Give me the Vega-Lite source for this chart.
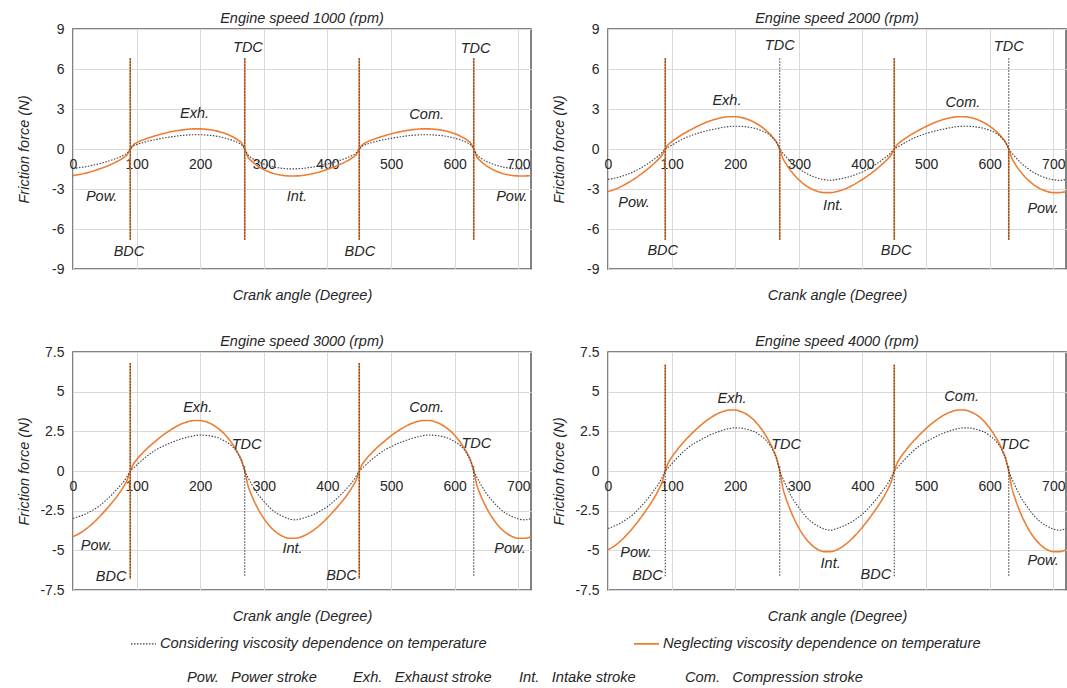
{
  "$schema": "https://vega.github.io/schema/vega-lite/v6.json",
  "background": "white",
  "padding": {"left": 15, "top": 9, "right": 0, "bottom": 0},
  "datasets": {
    "curves": [
      {"speed":1000,"angle":0,"C":-1.46,"N":-1.99},{"speed":1000,"angle":10,"C":-1.40,"N":-1.91},{"speed":1000,"angle":20,"C":-1.33,"N":-1.81},{"speed":1000,"angle":30,"C":-1.23,"N":-1.68},{"speed":1000,"angle":40,"C":-1.12,"N":-1.52},{"speed":1000,"angle":50,"C":-0.99,"N":-1.35},{"speed":1000,"angle":60,"C":-0.84,"N":-1.15},{"speed":1000,"angle":70,"C":-0.67,"N":-0.92},{"speed":1000,"angle":80,"C":-0.46,"N":-0.63},{"speed":1000,"angle":85,"C":-0.31,"N":-0.43},{"speed":1000,"angle":90,"C":0,"N":0},{"speed":1000,"angle":95,"C":0.22,"N":0.32},{"speed":1000,"angle":100,"C":0.33,"N":0.47},{"speed":1000,"angle":110,"C":0.48,"N":0.68},{"speed":1000,"angle":120,"C":0.61,"N":0.85},{"speed":1000,"angle":130,"C":0.71,"N":1.00},{"speed":1000,"angle":140,"C":0.80,"N":1.13},{"speed":1000,"angle":150,"C":0.88,"N":1.25},{"speed":1000,"angle":160,"C":0.95,"N":1.35},{"speed":1000,"angle":170,"C":1.01,"N":1.42},{"speed":1000,"angle":180,"C":1.05,"N":1.48},{"speed":1000,"angle":190,"C":1.07,"N":1.51},{"speed":1000,"angle":200,"C":1.07,"N":1.51},{"speed":1000,"angle":210,"C":1.04,"N":1.47},{"speed":1000,"angle":220,"C":1.00,"N":1.41},{"speed":1000,"angle":230,"C":0.92,"N":1.30},{"speed":1000,"angle":240,"C":0.81,"N":1.15},{"speed":1000,"angle":250,"C":0.66,"N":0.94},{"speed":1000,"angle":260,"C":0.46,"N":0.65},{"speed":1000,"angle":265,"C":0.32,"N":0.45},{"speed":1000,"angle":270,"C":0,"N":0},{"speed":1000,"angle":275,"C":-0.44,"N":-0.60},{"speed":1000,"angle":280,"C":-0.64,"N":-0.87},{"speed":1000,"angle":290,"C":-0.93,"N":-1.26},{"speed":1000,"angle":300,"C":-1.13,"N":-1.54},{"speed":1000,"angle":310,"C":-1.28,"N":-1.75},{"speed":1000,"angle":320,"C":-1.39,"N":-1.89},{"speed":1000,"angle":330,"C":-1.45,"N":-1.98},{"speed":1000,"angle":340,"C":-1.49,"N":-2.02},{"speed":1000,"angle":350,"C":-1.49,"N":-2.02},{"speed":1000,"angle":360,"C":-1.46,"N":-1.99},
      {"speed":1000,"angle":370,"C":-1.40,"N":-1.91},{"speed":1000,"angle":380,"C":-1.33,"N":-1.81},{"speed":1000,"angle":390,"C":-1.23,"N":-1.68},{"speed":1000,"angle":400,"C":-1.12,"N":-1.52},{"speed":1000,"angle":410,"C":-0.99,"N":-1.35},{"speed":1000,"angle":420,"C":-0.84,"N":-1.15},{"speed":1000,"angle":430,"C":-0.67,"N":-0.92},{"speed":1000,"angle":440,"C":-0.46,"N":-0.63},{"speed":1000,"angle":445,"C":-0.31,"N":-0.43},{"speed":1000,"angle":450,"C":0,"N":0},{"speed":1000,"angle":455,"C":0.22,"N":0.32},{"speed":1000,"angle":460,"C":0.33,"N":0.47},{"speed":1000,"angle":470,"C":0.48,"N":0.68},{"speed":1000,"angle":480,"C":0.61,"N":0.85},{"speed":1000,"angle":490,"C":0.71,"N":1.00},{"speed":1000,"angle":500,"C":0.80,"N":1.13},{"speed":1000,"angle":510,"C":0.88,"N":1.25},{"speed":1000,"angle":520,"C":0.95,"N":1.35},{"speed":1000,"angle":530,"C":1.01,"N":1.42},{"speed":1000,"angle":540,"C":1.05,"N":1.48},{"speed":1000,"angle":550,"C":1.07,"N":1.51},{"speed":1000,"angle":560,"C":1.07,"N":1.51},{"speed":1000,"angle":570,"C":1.04,"N":1.47},{"speed":1000,"angle":580,"C":1.00,"N":1.41},{"speed":1000,"angle":590,"C":0.92,"N":1.30},{"speed":1000,"angle":600,"C":0.81,"N":1.15},{"speed":1000,"angle":610,"C":0.66,"N":0.94},{"speed":1000,"angle":620,"C":0.46,"N":0.65},{"speed":1000,"angle":625,"C":0.32,"N":0.45},{"speed":1000,"angle":630,"C":0,"N":0},{"speed":1000,"angle":635,"C":-0.44,"N":-0.60},{"speed":1000,"angle":640,"C":-0.64,"N":-0.87},{"speed":1000,"angle":650,"C":-0.93,"N":-1.26},{"speed":1000,"angle":660,"C":-1.13,"N":-1.54},{"speed":1000,"angle":670,"C":-1.28,"N":-1.75},{"speed":1000,"angle":680,"C":-1.39,"N":-1.89},{"speed":1000,"angle":690,"C":-1.45,"N":-1.98},{"speed":1000,"angle":700,"C":-1.49,"N":-2.02},{"speed":1000,"angle":710,"C":-1.49,"N":-2.02},{"speed":1000,"angle":720,"C":-1.46,"N":-1.99},

      {"speed":2000,"angle":0,"C":-2.28,"N":-3.19},{"speed":2000,"angle":10,"C":-2.19,"N":-3.04},{"speed":2000,"angle":20,"C":-2.07,"N":-2.83},{"speed":2000,"angle":30,"C":-1.90,"N":-2.57},{"speed":2000,"angle":40,"C":-1.72,"N":-2.28},{"speed":2000,"angle":50,"C":-1.46,"N":-1.95},{"speed":2000,"angle":60,"C":-1.18,"N":-1.59},{"speed":2000,"angle":70,"C":-0.85,"N":-1.19},{"speed":2000,"angle":80,"C":-0.49,"N":-0.73},{"speed":2000,"angle":85,"C":-0.26,"N":-0.45},{"speed":2000,"angle":90,"C":0,"N":0},{"speed":2000,"angle":95,"C":0.14,"N":0.34},{"speed":2000,"angle":100,"C":0.28,"N":0.54},{"speed":2000,"angle":110,"C":0.55,"N":0.88},{"speed":2000,"angle":120,"C":0.80,"N":1.18},{"speed":2000,"angle":130,"C":1.00,"N":1.44},{"speed":2000,"angle":140,"C":1.16,"N":1.69},{"speed":2000,"angle":150,"C":1.30,"N":1.91},{"speed":2000,"angle":160,"C":1.42,"N":2.10},{"speed":2000,"angle":170,"C":1.52,"N":2.25},{"speed":2000,"angle":180,"C":1.61,"N":2.36},{"speed":2000,"angle":190,"C":1.68,"N":2.42},{"speed":2000,"angle":200,"C":1.71,"N":2.42},{"speed":2000,"angle":210,"C":1.70,"N":2.36},{"speed":2000,"angle":220,"C":1.64,"N":2.22},{"speed":2000,"angle":230,"C":1.56,"N":2.00},{"speed":2000,"angle":240,"C":1.40,"N":1.71},{"speed":2000,"angle":250,"C":1.18,"N":1.33},{"speed":2000,"angle":260,"C":0.78,"N":0.83},{"speed":2000,"angle":265,"C":0.47,"N":0.52},{"speed":2000,"angle":270,"C":0,"N":0},{"speed":2000,"angle":275,"C":-0.31,"N":-0.70},{"speed":2000,"angle":280,"C":-0.59,"N":-1.12},{"speed":2000,"angle":290,"C":-1.08,"N":-1.79},{"speed":2000,"angle":300,"C":-1.46,"N":-2.31},{"speed":2000,"angle":310,"C":-1.79,"N":-2.71},{"speed":2000,"angle":320,"C":-2.02,"N":-2.99},{"speed":2000,"angle":330,"C":-2.19,"N":-3.18},{"speed":2000,"angle":340,"C":-2.30,"N":-3.27},{"speed":2000,"angle":350,"C":-2.35,"N":-3.27},{"speed":2000,"angle":360,"C":-2.28,"N":-3.19},
      {"speed":2000,"angle":370,"C":-2.19,"N":-3.04},{"speed":2000,"angle":380,"C":-2.07,"N":-2.83},{"speed":2000,"angle":390,"C":-1.90,"N":-2.57},{"speed":2000,"angle":400,"C":-1.72,"N":-2.28},{"speed":2000,"angle":410,"C":-1.46,"N":-1.95},{"speed":2000,"angle":420,"C":-1.18,"N":-1.59},{"speed":2000,"angle":430,"C":-0.85,"N":-1.19},{"speed":2000,"angle":440,"C":-0.49,"N":-0.73},{"speed":2000,"angle":445,"C":-0.26,"N":-0.45},{"speed":2000,"angle":450,"C":0,"N":0},{"speed":2000,"angle":455,"C":0.14,"N":0.34},{"speed":2000,"angle":460,"C":0.28,"N":0.54},{"speed":2000,"angle":470,"C":0.55,"N":0.88},{"speed":2000,"angle":480,"C":0.80,"N":1.18},{"speed":2000,"angle":490,"C":1.00,"N":1.44},{"speed":2000,"angle":500,"C":1.16,"N":1.69},{"speed":2000,"angle":510,"C":1.30,"N":1.91},{"speed":2000,"angle":520,"C":1.42,"N":2.10},{"speed":2000,"angle":530,"C":1.52,"N":2.25},{"speed":2000,"angle":540,"C":1.61,"N":2.36},{"speed":2000,"angle":550,"C":1.68,"N":2.42},{"speed":2000,"angle":560,"C":1.71,"N":2.42},{"speed":2000,"angle":570,"C":1.70,"N":2.36},{"speed":2000,"angle":580,"C":1.64,"N":2.22},{"speed":2000,"angle":590,"C":1.56,"N":2.00},{"speed":2000,"angle":600,"C":1.40,"N":1.71},{"speed":2000,"angle":610,"C":1.18,"N":1.33},{"speed":2000,"angle":620,"C":0.78,"N":0.83},{"speed":2000,"angle":625,"C":0.47,"N":0.52},{"speed":2000,"angle":630,"C":0,"N":0},{"speed":2000,"angle":635,"C":-0.31,"N":-0.70},{"speed":2000,"angle":640,"C":-0.59,"N":-1.12},{"speed":2000,"angle":650,"C":-1.08,"N":-1.79},{"speed":2000,"angle":660,"C":-1.46,"N":-2.31},{"speed":2000,"angle":670,"C":-1.79,"N":-2.71},{"speed":2000,"angle":680,"C":-2.02,"N":-2.99},{"speed":2000,"angle":690,"C":-2.19,"N":-3.18},{"speed":2000,"angle":700,"C":-2.30,"N":-3.27},{"speed":2000,"angle":710,"C":-2.35,"N":-3.27},{"speed":2000,"angle":720,"C":-2.28,"N":-3.19},

      {"speed":3000,"angle":0,"C":-2.99,"N":-4.13},{"speed":3000,"angle":10,"C":-2.86,"N":-3.94},{"speed":3000,"angle":20,"C":-2.71,"N":-3.67},{"speed":3000,"angle":30,"C":-2.49,"N":-3.34},{"speed":3000,"angle":40,"C":-2.25,"N":-2.95},{"speed":3000,"angle":50,"C":-1.91,"N":-2.52},{"speed":3000,"angle":60,"C":-1.54,"N":-2.06},{"speed":3000,"angle":70,"C":-1.11,"N":-1.55},{"speed":3000,"angle":80,"C":-0.65,"N":-0.95},{"speed":3000,"angle":85,"C":-0.34,"N":-0.59},{"speed":3000,"angle":90,"C":0,"N":0},{"speed":3000,"angle":95,"C":0.18,"N":0.44},{"speed":3000,"angle":100,"C":0.37,"N":0.71},{"speed":3000,"angle":110,"C":0.73,"N":1.16},{"speed":3000,"angle":120,"C":1.05,"N":1.55},{"speed":3000,"angle":130,"C":1.33,"N":1.89},{"speed":3000,"angle":140,"C":1.53,"N":2.22},{"speed":3000,"angle":150,"C":1.72,"N":2.50},{"speed":3000,"angle":160,"C":1.88,"N":2.75},{"speed":3000,"angle":170,"C":2.02,"N":2.96},{"speed":3000,"angle":180,"C":2.13,"N":3.10},{"speed":3000,"angle":190,"C":2.22,"N":3.18},{"speed":3000,"angle":200,"C":2.27,"N":3.18},{"speed":3000,"angle":210,"C":2.24,"N":3.09},{"speed":3000,"angle":220,"C":2.18,"N":2.91},{"speed":3000,"angle":230,"C":2.06,"N":2.63},{"speed":3000,"angle":240,"C":1.85,"N":2.25},{"speed":3000,"angle":250,"C":1.56,"N":1.74},{"speed":3000,"angle":260,"C":1.03,"N":1.09},{"speed":3000,"angle":265,"C":0.62,"N":0.68},{"speed":3000,"angle":270,"C":0,"N":0},{"speed":3000,"angle":275,"C":-0.40,"N":-0.90},{"speed":3000,"angle":280,"C":-0.77,"N":-1.45},{"speed":3000,"angle":290,"C":-1.42,"N":-2.32},{"speed":3000,"angle":300,"C":-1.91,"N":-2.99},{"speed":3000,"angle":310,"C":-2.34,"N":-3.51},{"speed":3000,"angle":320,"C":-2.65,"N":-3.88},{"speed":3000,"angle":330,"C":-2.86,"N":-4.12},{"speed":3000,"angle":340,"C":-3.02,"N":-4.24},{"speed":3000,"angle":350,"C":-3.08,"N":-4.24},{"speed":3000,"angle":360,"C":-2.99,"N":-4.13},
      {"speed":3000,"angle":370,"C":-2.86,"N":-3.94},{"speed":3000,"angle":380,"C":-2.71,"N":-3.67},{"speed":3000,"angle":390,"C":-2.49,"N":-3.34},{"speed":3000,"angle":400,"C":-2.25,"N":-2.95},{"speed":3000,"angle":410,"C":-1.91,"N":-2.52},{"speed":3000,"angle":420,"C":-1.54,"N":-2.06},{"speed":3000,"angle":430,"C":-1.11,"N":-1.55},{"speed":3000,"angle":440,"C":-0.65,"N":-0.95},{"speed":3000,"angle":445,"C":-0.34,"N":-0.59},{"speed":3000,"angle":450,"C":0,"N":0},{"speed":3000,"angle":455,"C":0.18,"N":0.44},{"speed":3000,"angle":460,"C":0.37,"N":0.71},{"speed":3000,"angle":470,"C":0.73,"N":1.16},{"speed":3000,"angle":480,"C":1.05,"N":1.55},{"speed":3000,"angle":490,"C":1.33,"N":1.89},{"speed":3000,"angle":500,"C":1.53,"N":2.22},{"speed":3000,"angle":510,"C":1.72,"N":2.50},{"speed":3000,"angle":520,"C":1.88,"N":2.75},{"speed":3000,"angle":530,"C":2.02,"N":2.96},{"speed":3000,"angle":540,"C":2.13,"N":3.10},{"speed":3000,"angle":550,"C":2.22,"N":3.18},{"speed":3000,"angle":560,"C":2.27,"N":3.18},{"speed":3000,"angle":570,"C":2.24,"N":3.09},{"speed":3000,"angle":580,"C":2.18,"N":2.91},{"speed":3000,"angle":590,"C":2.06,"N":2.63},{"speed":3000,"angle":600,"C":1.85,"N":2.25},{"speed":3000,"angle":610,"C":1.56,"N":1.74},{"speed":3000,"angle":620,"C":1.03,"N":1.09},{"speed":3000,"angle":625,"C":0.62,"N":0.68},{"speed":3000,"angle":630,"C":0,"N":0},{"speed":3000,"angle":635,"C":-0.40,"N":-0.90},{"speed":3000,"angle":640,"C":-0.77,"N":-1.45},{"speed":3000,"angle":650,"C":-1.42,"N":-2.32},{"speed":3000,"angle":660,"C":-1.91,"N":-2.99},{"speed":3000,"angle":670,"C":-2.34,"N":-3.51},{"speed":3000,"angle":680,"C":-2.65,"N":-3.88},{"speed":3000,"angle":690,"C":-2.86,"N":-4.12},{"speed":3000,"angle":700,"C":-3.02,"N":-4.24},{"speed":3000,"angle":710,"C":-3.08,"N":-4.24},{"speed":3000,"angle":720,"C":-2.99,"N":-4.13},

      {"speed":4000,"angle":0,"C":-3.62,"N":-4.96},{"speed":4000,"angle":10,"C":-3.47,"N":-4.73},{"speed":4000,"angle":20,"C":-3.28,"N":-4.40},{"speed":4000,"angle":30,"C":-3.02,"N":-4.00},{"speed":4000,"angle":40,"C":-2.72,"N":-3.54},{"speed":4000,"angle":50,"C":-2.31,"N":-3.03},{"speed":4000,"angle":60,"C":-1.87,"N":-2.47},{"speed":4000,"angle":70,"C":-1.34,"N":-1.86},{"speed":4000,"angle":80,"C":-0.78,"N":-1.14},{"speed":4000,"angle":85,"C":-0.41,"N":-0.70},{"speed":4000,"angle":90,"C":0,"N":0},{"speed":4000,"angle":95,"C":0.22,"N":0.53},{"speed":4000,"angle":100,"C":0.44,"N":0.86},{"speed":4000,"angle":110,"C":0.88,"N":1.40},{"speed":4000,"angle":120,"C":1.27,"N":1.87},{"speed":4000,"angle":130,"C":1.60,"N":2.29},{"speed":4000,"angle":140,"C":1.84,"N":2.68},{"speed":4000,"angle":150,"C":2.06,"N":3.02},{"speed":4000,"angle":160,"C":2.26,"N":3.32},{"speed":4000,"angle":170,"C":2.42,"N":3.57},{"speed":4000,"angle":180,"C":2.56,"N":3.74},{"speed":4000,"angle":190,"C":2.67,"N":3.84},{"speed":4000,"angle":200,"C":2.72,"N":3.84},{"speed":4000,"angle":210,"C":2.70,"N":3.73},{"speed":4000,"angle":220,"C":2.61,"N":3.52},{"speed":4000,"angle":230,"C":2.48,"N":3.18},{"speed":4000,"angle":240,"C":2.23,"N":2.71},{"speed":4000,"angle":250,"C":1.87,"N":2.10},{"speed":4000,"angle":260,"C":1.24,"N":1.32},{"speed":4000,"angle":265,"C":0.74,"N":0.82},{"speed":4000,"angle":270,"C":0,"N":0},{"speed":4000,"angle":275,"C":-0.48,"N":-1.08},{"speed":4000,"angle":280,"C":-0.93,"N":-1.74},{"speed":4000,"angle":290,"C":-1.72,"N":-2.78},{"speed":4000,"angle":300,"C":-2.31,"N":-3.59},{"speed":4000,"angle":310,"C":-2.83,"N":-4.21},{"speed":4000,"angle":320,"C":-3.21,"N":-4.66},{"speed":4000,"angle":330,"C":-3.47,"N":-4.95},{"speed":4000,"angle":340,"C":-3.66,"N":-5.08},{"speed":4000,"angle":350,"C":-3.73,"N":-5.08},{"speed":4000,"angle":360,"C":-3.62,"N":-4.96},
      {"speed":4000,"angle":370,"C":-3.47,"N":-4.73},{"speed":4000,"angle":380,"C":-3.28,"N":-4.40},{"speed":4000,"angle":390,"C":-3.02,"N":-4.00},{"speed":4000,"angle":400,"C":-2.72,"N":-3.54},{"speed":4000,"angle":410,"C":-2.31,"N":-3.03},{"speed":4000,"angle":420,"C":-1.87,"N":-2.47},{"speed":4000,"angle":430,"C":-1.34,"N":-1.86},{"speed":4000,"angle":440,"C":-0.78,"N":-1.14},{"speed":4000,"angle":445,"C":-0.41,"N":-0.70},{"speed":4000,"angle":450,"C":0,"N":0},{"speed":4000,"angle":455,"C":0.22,"N":0.53},{"speed":4000,"angle":460,"C":0.44,"N":0.86},{"speed":4000,"angle":470,"C":0.88,"N":1.40},{"speed":4000,"angle":480,"C":1.27,"N":1.87},{"speed":4000,"angle":490,"C":1.60,"N":2.29},{"speed":4000,"angle":500,"C":1.84,"N":2.68},{"speed":4000,"angle":510,"C":2.06,"N":3.02},{"speed":4000,"angle":520,"C":2.26,"N":3.32},{"speed":4000,"angle":530,"C":2.42,"N":3.57},{"speed":4000,"angle":540,"C":2.56,"N":3.74},{"speed":4000,"angle":550,"C":2.67,"N":3.84},{"speed":4000,"angle":560,"C":2.72,"N":3.84},{"speed":4000,"angle":570,"C":2.70,"N":3.73},{"speed":4000,"angle":580,"C":2.61,"N":3.52},{"speed":4000,"angle":590,"C":2.48,"N":3.18},{"speed":4000,"angle":600,"C":2.23,"N":2.71},{"speed":4000,"angle":610,"C":1.87,"N":2.10},{"speed":4000,"angle":620,"C":1.24,"N":1.32},{"speed":4000,"angle":625,"C":0.74,"N":0.82},{"speed":4000,"angle":630,"C":0,"N":0},{"speed":4000,"angle":635,"C":-0.48,"N":-1.08},{"speed":4000,"angle":640,"C":-0.93,"N":-1.74},{"speed":4000,"angle":650,"C":-1.72,"N":-2.78},{"speed":4000,"angle":660,"C":-2.31,"N":-3.59},{"speed":4000,"angle":670,"C":-2.83,"N":-4.21},{"speed":4000,"angle":680,"C":-3.21,"N":-4.66},{"speed":4000,"angle":690,"C":-3.47,"N":-4.95},{"speed":4000,"angle":700,"C":-3.66,"N":-5.08},{"speed":4000,"angle":710,"C":-3.73,"N":-5.08},{"speed":4000,"angle":720,"C":-3.62,"N":-4.96}
    ],
    "markers": [
      {"speed":1000,"angle":90,"series":"N","top":6.8,"bottom":-6.8},{"speed":1000,"angle":270,"series":"N","top":6.8,"bottom":-6.8},{"speed":1000,"angle":450,"series":"N","top":6.8,"bottom":-6.8},{"speed":1000,"angle":630,"series":"N","top":6.8,"bottom":-6.8},
      {"speed":1000,"angle":90,"series":"C","top":6.8,"bottom":-6.8},{"speed":1000,"angle":270,"series":"C","top":6.8,"bottom":-6.8},{"speed":1000,"angle":450,"series":"C","top":6.8,"bottom":-6.8},{"speed":1000,"angle":630,"series":"C","top":6.8,"bottom":-6.8},
      {"speed":2000,"angle":90,"series":"N","top":6.8,"bottom":-6.8},{"speed":2000,"angle":270,"series":"N","top":0,"bottom":-6.8},{"speed":2000,"angle":450,"series":"N","top":6.8,"bottom":-6.8},{"speed":2000,"angle":630,"series":"N","top":0,"bottom":-6.8},
      {"speed":2000,"angle":90,"series":"C","top":6.8,"bottom":-6.8},{"speed":2000,"angle":270,"series":"C","top":6.8,"bottom":-6.8},{"speed":2000,"angle":450,"series":"C","top":6.8,"bottom":-6.8},{"speed":2000,"angle":630,"series":"C","top":6.8,"bottom":-6.8},
      {"speed":3000,"angle":90,"series":"N","top":6.8,"bottom":-6.8},{"speed":3000,"angle":450,"series":"N","top":6.8,"bottom":-6.8},
      {"speed":3000,"angle":90,"series":"C","top":6.8,"bottom":-6.8},{"speed":3000,"angle":270,"series":"C","top":0.3,"bottom":-6.6},{"speed":3000,"angle":450,"series":"C","top":6.8,"bottom":-6.8},{"speed":3000,"angle":630,"series":"C","top":0.3,"bottom":-6.6},
      {"speed":4000,"angle":90,"series":"N","top":6.7,"bottom":0},{"speed":4000,"angle":450,"series":"N","top":6.7,"bottom":0},
      {"speed":4000,"angle":90,"series":"C","top":6.7,"bottom":-6.7},{"speed":4000,"angle":270,"series":"C","top":0.3,"bottom":-6.7},{"speed":4000,"angle":450,"series":"C","top":6.7,"bottom":-6.7},{"speed":4000,"angle":630,"series":"C","top":0.3,"bottom":-6.7}
    ],
    "labels": [
      {"speed":1000,"angle":275,"force":7.56,"label":"TDC"},{"speed":1000,"angle":633,"force":7.5,"label":"TDC"},{"speed":1000,"angle":88,"force":-7.69,"label":"BDC"},{"speed":1000,"angle":451,"force":-7.69,"label":"BDC"},{"speed":1000,"angle":191,"force":2.63,"label":"Exh."},{"speed":1000,"angle":556,"force":2.55,"label":"Com."},{"speed":1000,"angle":45,"force":-3.6,"label":"Pow."},{"speed":1000,"angle":352,"force":-3.6,"label":"Int."},{"speed":1000,"angle":690,"force":-3.57,"label":"Pow."},
      {"speed":2000,"angle":270,"force":7.75,"label":"TDC"},{"speed":2000,"angle":630,"force":7.68,"label":"TDC"},{"speed":2000,"angle":86,"force":-7.63,"label":"BDC"},{"speed":2000,"angle":453,"force":-7.63,"label":"BDC"},{"speed":2000,"angle":187,"force":3.6,"label":"Exh."},{"speed":2000,"angle":558,"force":3.43,"label":"Com."},{"speed":2000,"angle":41,"force":-4.08,"label":"Pow."},{"speed":2000,"angle":354,"force":-4.28,"label":"Int."},{"speed":2000,"angle":684,"force":-4.48,"label":"Pow."},
      {"speed":3000,"angle":196,"force":3.98,"label":"Exh."},{"speed":3000,"angle":556,"force":3.98,"label":"Com."},{"speed":3000,"angle":273,"force":1.63,"label":"TDC"},{"speed":3000,"angle":634,"force":1.73,"label":"TDC"},{"speed":3000,"angle":60,"force":-6.65,"label":"BDC"},{"speed":3000,"angle":422,"force":-6.6,"label":"BDC"},{"speed":3000,"angle":37,"force":-4.73,"label":"Pow."},{"speed":3000,"angle":345,"force":-4.94,"label":"Int."},{"speed":3000,"angle":687,"force":-4.9,"label":"Pow."},
      {"speed":4000,"angle":195,"force":4.54,"label":"Exh."},{"speed":4000,"angle":556,"force":4.65,"label":"Com."},{"speed":4000,"angle":280,"force":1.63,"label":"TDC"},{"speed":4000,"angle":639,"force":1.63,"label":"TDC"},{"speed":4000,"angle":62,"force":-6.6,"label":"BDC"},{"speed":4000,"angle":421,"force":-6.56,"label":"BDC"},{"speed":4000,"angle":44,"force":-5.15,"label":"Pow."},{"speed":4000,"angle":350,"force":-5.88,"label":"Int."},{"speed":4000,"angle":684,"force":-5.67,"label":"Pow."}
    ],
    "strokes": [
      {"abbr":"Pow.","entry":"Pow.\u00a0\u00a0\u00a0Power stroke"},
      {"abbr":"Exh.","entry":"Exh.\u00a0\u00a0\u00a0Exhaust stroke"},
      {"abbr":"Int.","entry":"Int.\u00a0\u00a0\u00a0Intake stroke"},
      {"abbr":"Com.","entry":"Com.\u00a0\u00a0\u00a0Compression stroke"}
    ]
  },
  "spacing": 29,
  "resolve": {"scale": {"x": "independent", "y": "independent", "color": "shared", "strokeDash": "shared", "strokeWidth": "shared"}},
  "vconcat": [
    {
      "spacing": 15,
      "resolve": {"scale": {"x": "independent", "y": "independent"}},
      "hconcat": [
        {
          "width": 458, "height": 240,
          "title": "Engine speed 1000 (rpm)",
          "encoding": {
            "x": {"field": "angle", "type": "quantitative", "scale": {"domain": [0, 720], "nice": false, "zero": false},
                  "axis": {"values": [0,100,200,300,400,500,600,700], "offset": -120, "labelPadding": 8, "title": "Crank angle (Degree)", "titleY": 146, "titleBaseline": "middle"}}
          },
          "layer": [
            {"data": {"name": "curves"}, "transform": [{"filter": "datum.speed === 1000"}, {"fold": ["N", "C"], "as": ["series", "force"]}],
             "mark": {"type": "line", "interpolate": "monotone"},
             "encoding": {
               "y": {"field": "force", "type": "quantitative", "scale": {"domain": [-9, 9], "nice": false}, "axis": {"values": [-9,-6,-3,0,3,6,9], "title": "Friction force (N)", "titleX": -42, "labelExpr": "toString(datum.value)"}},
               "color": {"field": "series", "type": "nominal", "scale": {"domain": ["C","N"], "range": ["#404040","#ED7D31"]}, "legend": {"title": null, "labelExpr": "datum.label === 'C' ? 'Considering viscosity dependence on temperature' : 'Neglecting viscosity dependence on temperature'"}},
               "strokeDash": {"field": "series", "type": "nominal", "scale": {"domain": ["C","N"], "range": [[1.5,1.5],[1,0]]}, "legend": {"title": null, "labelExpr": "datum.label === 'C' ? 'Considering viscosity dependence on temperature' : 'Neglecting viscosity dependence on temperature'"}},
               "strokeWidth": {"field": "series", "type": "ordinal", "scale": {"domain": ["C","N"], "range": [1.1, 1.6]}, "legend": null}
             }},
            {"data": {"name": "markers"}, "transform": [{"filter": "datum.speed === 1000"}],
             "mark": {"type": "rule"},
             "encoding": {
               "y": {"field": "top", "type": "quantitative", "axis": {"values": [-9,-6,-3,0,3,6,9], "title": "Friction force (N)", "titleX": -42, "labelExpr": "toString(datum.value)"}},
               "y2": {"field": "bottom"},
               "color": {"field": "series", "type": "nominal", "legend": {"title": null, "labelExpr": "datum.label === 'C' ? 'Considering viscosity dependence on temperature' : 'Neglecting viscosity dependence on temperature'"}},
               "strokeDash": {"field": "series", "type": "nominal", "legend": {"title": null, "labelExpr": "datum.label === 'C' ? 'Considering viscosity dependence on temperature' : 'Neglecting viscosity dependence on temperature'"}},
               "strokeWidth": {"field": "series", "type": "ordinal", "legend": null}
             }},
            {"data": {"name": "labels"}, "transform": [{"filter": "datum.speed === 1000"}],
             "mark": {"type": "text", "font": "Liberation Sans", "fontSize": 14.5, "fontStyle": "italic", "color": "#262626"},
             "encoding": {"y": {"field": "force", "type": "quantitative", "axis": {"values": [-9,-6,-3,0,3,6,9], "title": "Friction force (N)", "titleX": -42, "labelExpr": "toString(datum.value)"}}, "text": {"field": "label"}}}
          ]
        },
        {
          "width": 458, "height": 240,
          "title": "Engine speed 2000 (rpm)",
          "encoding": {
            "x": {"field": "angle", "type": "quantitative", "scale": {"domain": [0, 720], "nice": false, "zero": false},
                  "axis": {"values": [0,100,200,300,400,500,600,700], "offset": -120, "labelPadding": 8, "title": "Crank angle (Degree)", "titleY": 146, "titleBaseline": "middle"}}
          },
          "layer": [
            {"data": {"name": "curves"}, "transform": [{"filter": "datum.speed === 2000"}, {"fold": ["N", "C"], "as": ["series", "force"]}],
             "mark": {"type": "line", "interpolate": "monotone"},
             "encoding": {
               "y": {"field": "force", "type": "quantitative", "scale": {"domain": [-9, 9], "nice": false}, "axis": {"values": [-9,-6,-3,0,3,6,9], "title": "Friction force (N)", "titleX": -42, "labelExpr": "toString(datum.value)"}},
               "color": {"field": "series", "type": "nominal", "legend": {"title": null, "labelExpr": "datum.label === 'C' ? 'Considering viscosity dependence on temperature' : 'Neglecting viscosity dependence on temperature'"}},
               "strokeDash": {"field": "series", "type": "nominal", "legend": {"title": null, "labelExpr": "datum.label === 'C' ? 'Considering viscosity dependence on temperature' : 'Neglecting viscosity dependence on temperature'"}},
               "strokeWidth": {"field": "series", "type": "ordinal", "legend": null}
             }},
            {"data": {"name": "markers"}, "transform": [{"filter": "datum.speed === 2000"}],
             "mark": {"type": "rule"},
             "encoding": {
               "y": {"field": "top", "type": "quantitative", "axis": {"values": [-9,-6,-3,0,3,6,9], "title": "Friction force (N)", "titleX": -42, "labelExpr": "toString(datum.value)"}},
               "y2": {"field": "bottom"},
               "color": {"field": "series", "type": "nominal", "legend": {"title": null, "labelExpr": "datum.label === 'C' ? 'Considering viscosity dependence on temperature' : 'Neglecting viscosity dependence on temperature'"}},
               "strokeDash": {"field": "series", "type": "nominal", "legend": {"title": null, "labelExpr": "datum.label === 'C' ? 'Considering viscosity dependence on temperature' : 'Neglecting viscosity dependence on temperature'"}},
               "strokeWidth": {"field": "series", "type": "ordinal", "legend": null}
             }},
            {"data": {"name": "labels"}, "transform": [{"filter": "datum.speed === 2000"}],
             "mark": {"type": "text", "font": "Liberation Sans", "fontSize": 14.5, "fontStyle": "italic", "color": "#262626"},
             "encoding": {"y": {"field": "force", "type": "quantitative", "axis": {"values": [-9,-6,-3,0,3,6,9], "title": "Friction force (N)", "titleX": -42, "labelExpr": "toString(datum.value)"}}, "text": {"field": "label"}}}
          ]
        }
      ]
    },
    {
      "spacing": 15,
      "resolve": {"scale": {"x": "independent", "y": "independent"}},
      "hconcat": [
        {
          "width": 458, "height": 238,
          "title": "Engine speed 3000 (rpm)",
          "encoding": {
            "x": {"field": "angle", "type": "quantitative", "scale": {"domain": [0, 720], "nice": false, "zero": false},
                  "axis": {"values": [0,100,200,300,400,500,600,700], "offset": -119, "labelPadding": 8, "title": "Crank angle (Degree)", "titleY": 145, "titleBaseline": "middle"}}
          },
          "layer": [
            {"data": {"name": "curves"}, "transform": [{"filter": "datum.speed === 3000"}, {"fold": ["N", "C"], "as": ["series", "force"]}],
             "mark": {"type": "line", "interpolate": "monotone"},
             "encoding": {
               "y": {"field": "force", "type": "quantitative", "scale": {"domain": [-7.5, 7.5], "nice": false}, "axis": {"values": [-7.5,-5,-2.5,0,2.5,5,7.5], "title": "Friction force (N)", "titleX": -42, "labelExpr": "toString(datum.value)"}},
               "color": {"field": "series", "type": "nominal", "legend": {"title": null, "labelExpr": "datum.label === 'C' ? 'Considering viscosity dependence on temperature' : 'Neglecting viscosity dependence on temperature'"}},
               "strokeDash": {"field": "series", "type": "nominal", "legend": {"title": null, "labelExpr": "datum.label === 'C' ? 'Considering viscosity dependence on temperature' : 'Neglecting viscosity dependence on temperature'"}},
               "strokeWidth": {"field": "series", "type": "ordinal", "legend": null}
             }},
            {"data": {"name": "markers"}, "transform": [{"filter": "datum.speed === 3000"}],
             "mark": {"type": "rule"},
             "encoding": {
               "y": {"field": "top", "type": "quantitative", "axis": {"values": [-7.5,-5,-2.5,0,2.5,5,7.5], "title": "Friction force (N)", "titleX": -42, "labelExpr": "toString(datum.value)"}},
               "y2": {"field": "bottom"},
               "color": {"field": "series", "type": "nominal", "legend": {"title": null, "labelExpr": "datum.label === 'C' ? 'Considering viscosity dependence on temperature' : 'Neglecting viscosity dependence on temperature'"}},
               "strokeDash": {"field": "series", "type": "nominal", "legend": {"title": null, "labelExpr": "datum.label === 'C' ? 'Considering viscosity dependence on temperature' : 'Neglecting viscosity dependence on temperature'"}},
               "strokeWidth": {"field": "series", "type": "ordinal", "legend": null}
             }},
            {"data": {"name": "labels"}, "transform": [{"filter": "datum.speed === 3000"}],
             "mark": {"type": "text", "font": "Liberation Sans", "fontSize": 14.5, "fontStyle": "italic", "color": "#262626"},
             "encoding": {"y": {"field": "force", "type": "quantitative", "axis": {"values": [-7.5,-5,-2.5,0,2.5,5,7.5], "title": "Friction force (N)", "titleX": -42, "labelExpr": "toString(datum.value)"}}, "text": {"field": "label"}}}
          ]
        },
        {
          "width": 458, "height": 238,
          "title": "Engine speed 4000 (rpm)",
          "encoding": {
            "x": {"field": "angle", "type": "quantitative", "scale": {"domain": [0, 720], "nice": false, "zero": false},
                  "axis": {"values": [0,100,200,300,400,500,600,700], "offset": -119, "labelPadding": 8, "title": "Crank angle (Degree)", "titleY": 145, "titleBaseline": "middle"}}
          },
          "layer": [
            {"data": {"name": "curves"}, "transform": [{"filter": "datum.speed === 4000"}, {"fold": ["N", "C"], "as": ["series", "force"]}],
             "mark": {"type": "line", "interpolate": "monotone"},
             "encoding": {
               "y": {"field": "force", "type": "quantitative", "scale": {"domain": [-7.5, 7.5], "nice": false}, "axis": {"values": [-7.5,-5,-2.5,0,2.5,5,7.5], "title": "Friction force (N)", "titleX": -42, "labelExpr": "toString(datum.value)"}},
               "color": {"field": "series", "type": "nominal", "legend": {"title": null, "labelExpr": "datum.label === 'C' ? 'Considering viscosity dependence on temperature' : 'Neglecting viscosity dependence on temperature'"}},
               "strokeDash": {"field": "series", "type": "nominal", "legend": {"title": null, "labelExpr": "datum.label === 'C' ? 'Considering viscosity dependence on temperature' : 'Neglecting viscosity dependence on temperature'"}},
               "strokeWidth": {"field": "series", "type": "ordinal", "legend": null}
             }},
            {"data": {"name": "markers"}, "transform": [{"filter": "datum.speed === 4000"}],
             "mark": {"type": "rule"},
             "encoding": {
               "y": {"field": "top", "type": "quantitative", "axis": {"values": [-7.5,-5,-2.5,0,2.5,5,7.5], "title": "Friction force (N)", "titleX": -42, "labelExpr": "toString(datum.value)"}},
               "y2": {"field": "bottom"},
               "color": {"field": "series", "type": "nominal", "legend": {"title": null, "labelExpr": "datum.label === 'C' ? 'Considering viscosity dependence on temperature' : 'Neglecting viscosity dependence on temperature'"}},
               "strokeDash": {"field": "series", "type": "nominal", "legend": {"title": null, "labelExpr": "datum.label === 'C' ? 'Considering viscosity dependence on temperature' : 'Neglecting viscosity dependence on temperature'"}},
               "strokeWidth": {"field": "series", "type": "ordinal", "legend": null}
             }},
            {"data": {"name": "labels"}, "transform": [{"filter": "datum.speed === 4000"}],
             "mark": {"type": "text", "font": "Liberation Sans", "fontSize": 14.5, "fontStyle": "italic", "color": "#262626"},
             "encoding": {"y": {"field": "force", "type": "quantitative", "axis": {"values": [-7.5,-5,-2.5,0,2.5,5,7.5], "title": "Friction force (N)", "titleX": -42, "labelExpr": "toString(datum.value)"}}, "text": {"field": "label"}}}
          ]
        }
      ]
    },
    {
      "width": 726, "height": 49,
      "view": {"stroke": null},
      "data": {"name": "strokes"},
      "mark": {"type": "text", "align": "left", "font": "Liberation Sans", "fontSize": 14.7, "fontStyle": "italic", "color": "#262626"},
      "encoding": {
        "x": {"field": "abbr", "type": "nominal", "sort": null, "scale": {"type": "point", "padding": 0.687}, "axis": null},
        "text": {"field": "entry"}
      }
    }
  ],
  "config": {
    "font": "Liberation Sans",
    "view": {"stroke": "#595959", "strokeWidth": 1.5},
    "title": {"font": "Liberation Sans", "fontSize": 14.5, "fontStyle": "italic", "fontWeight": "normal", "color": "#262626", "offset": -4},
    "axis": {
      "labelFont": "Liberation Sans", "labelFontSize": 14, "labelColor": "#262626",
      "titleFont": "Liberation Sans", "titleFontSize": 14.5, "titleFontStyle": "italic", "titleFontWeight": "normal", "titleColor": "#262626",
      "gridColor": "#d9d9d9", "gridWidth": 1, "domain": false, "ticks": false, "labelPadding": 9, "labelFlush": false, "labelOverlap": false
    },
    "legend": {
      "orient": "none", "legendX": 57, "legendY": 601, "direction": "horizontal", "columns": 2, "columnPadding": 143,
      "symbolType": "stroke", "symbolSize": 625, "symbolStrokeWidth": 1.5, "labelOffset": 3,
      "labelFont": "Liberation Sans", "labelFontSize": 14.7, "labelFontStyle": "italic", "labelColor": "#262626", "labelLimit": 0
    }
  }
}
